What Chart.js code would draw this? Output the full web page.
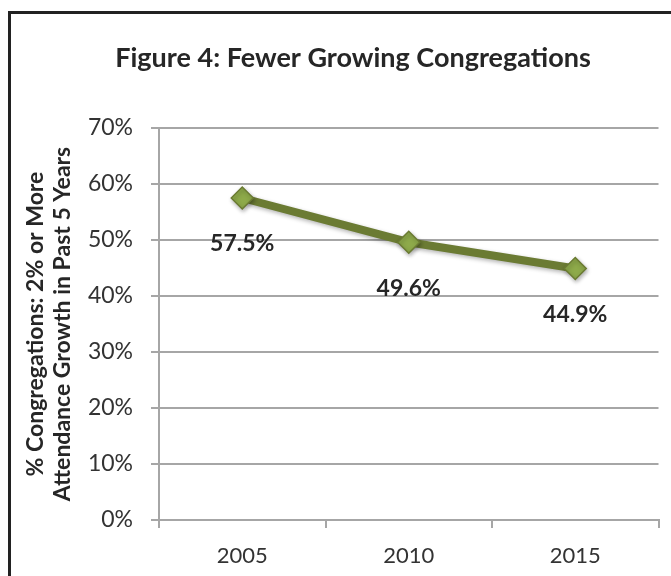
<!DOCTYPE html>
<html>
<head>
<meta charset="utf-8">
<script src="https://cdn.jsdelivr.net/npm/chart.js@4/dist/chart.umd.min.js"></script>
<style>
  html, body { margin: 0; padding: 0; background: #ffffff; }
  #wrap { position: relative; width: 671px; height: 576px; overflow: hidden; }
  #frame { position: absolute; left: 8px; top: 11px; width: 700px; height: 620px;
           border-left: 3px solid #222; border-top: 3px solid #222; box-sizing: border-box; pointer-events: none; }
  canvas { position: absolute; left: 0; top: 0; }
</style>
</head>
<body>
<div id="wrap">
  <canvas id="c" width="671" height="576"></canvas>
  <div id="frame"></div>
</div>
<script>
const titleText = 'Figure 4: Fewer Growing Congregations';
const yAxisTitle = ['% Congregations: 2% or More', 'Attendance Growth in Past 5 Years'];
const years = ['2005', '2010', '2015'];
const growingShare = [57.5, 49.6, 44.9];
const yTicks = [0, 10, 20, 30, 40, 50, 60, 70];

const FONT = '"Lato", "Open Sans", sans-serif';

const labelPlugin = {
  id: 'pointLabels',
  afterDatasetsDraw(chart) {
    const ctx = chart.ctx;
    const meta = chart.getDatasetMeta(0);
    ctx.save();
    ctx.font = 'bold 23px ' + FONT;
    ctx.fillStyle = '#262626';
    ctx.textAlign = 'center';
    ctx.textBaseline = 'middle';
    meta.data.forEach((pt, i) => {
      ctx.fillText(growingShare[i].toFixed(1) + '%', pt.x, pt.y + 46);
    });
    ctx.restore();
  }
};

const shadowPlugin = {
  id: 'markerShadow',
  beforeDatasetsDraw(chart) {
    const ctx = chart.ctx;
    ctx.save();
    ctx.shadowColor = 'rgba(0,0,0,0.3)';
    ctx.shadowBlur = 4;
    ctx.shadowOffsetX = 1;
    ctx.shadowOffsetY = 2;
  },
  afterDatasetsDraw(chart) {
    chart.ctx.restore();
  }
};

new Chart(document.getElementById('c'), {
  type: 'line',
  data: {
    labels: years,
    datasets: [{
      data: growingShare,
      borderColor: '#6b7b33',
      borderWidth: 8,
      pointStyle: 'rectRot',
      pointRadius: 11,
      pointBackgroundColor: '#8eaa4a',
      pointBorderColor: '#6b7b33',
      pointBorderWidth: 1.5,
      tension: 0,
      fill: false
    }]
  },
  options: {
    responsive: false,
    animation: false,
    devicePixelRatio: 1,
    layout: { padding: { left: 41, right: 6, top: 0, bottom: 0 } },
    plugins: {
      legend: { display: false },
      tooltip: { enabled: false },
      title: {
        display: true,
        text: titleText,
        color: '#262626',
        font: { family: FONT, size: 27, weight: 'bold', lineHeight: 1.2 },
        padding: { top: 42, bottom: 53.6 }
      }
    },
    scales: {
      x: {
        type: 'category',
        offset: true,
        afterFit(s) { s.height = 56; },
        grid: { display: true, drawOnChartArea: false, drawTicks: true, tickLength: 8, offset: true, color: '#a6a6a6', lineWidth: 2 },
        border: { display: true, color: '#a6a6a6', width: 2 },
        ticks: { color: '#333333', font: { family: FONT, size: 22 }, padding: 15 }
      },
      y: {
        min: 0,
        max: 70,
        afterFit(s) { s.width = 118; },
        afterBuildTicks(s) { s.ticks = yTicks.map(v => ({ value: v })); },
        grid: { color: '#a6a6a6', lineWidth: 2, tickLength: 8, drawTicks: true },
        border: { display: true, color: '#a6a6a6', width: 2 },
        ticks: {
          color: '#333333',
          font: { family: FONT, size: 23 },
          padding: 18,
          callback: v => v + '%'
        },
        title: {
          display: true,
          text: yAxisTitle,
          color: '#262626',
          font: { family: FONT, size: 23, weight: 'bold', lineHeight: 1.174 },
          padding: { top: -19, bottom: 0 }
        }
      }
    }
  },
  plugins: [shadowPlugin, labelPlugin]
});
</script>
</body>
</html>
